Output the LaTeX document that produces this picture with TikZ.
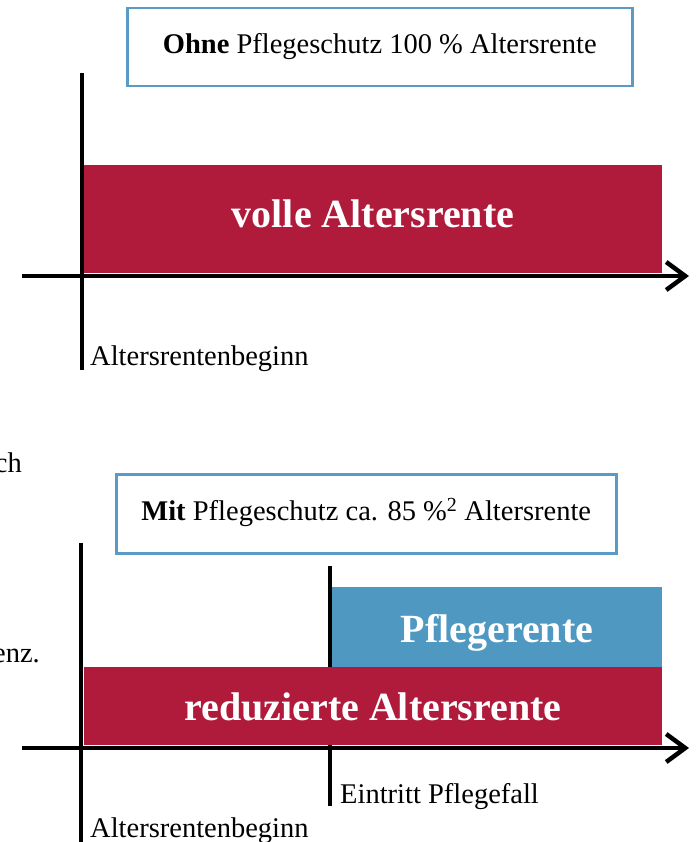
\documentclass[tikz,border=0pt]{standalone}
\usepackage{fontspec}
\setmainfont{Liberation Serif}
\usetikzlibrary{arrows.meta,positioning}
\definecolor{rentred}{HTML}{B01A3B}
\definecolor{pflegeblue}{HTML}{4F98C2}
\definecolor{boxblue}{HTML}{5A9AC6}

\begin{document}
\begin{tikzpicture}[
  x=1pt, y=-1pt,
  font=\fontsize{28.5}{34}\selectfont,
  >={Straight Barb[length=19pt,width=28pt]},
  axis/.style={line width=4.5pt},
  timeline/.style={axis, ->},
  bar/.style={anchor=north west, inner sep=0pt, outer sep=0pt},
  bartext/.style={anchor=base, inner sep=0pt, text=white,
                  font=\fontsize{40}{44}\selectfont\bfseries},
  caption/.style={draw=boxblue, line width=2.5pt, fill=white, anchor=north west,
                  inner sep=0pt, text height=19.5pt, text depth=6.2pt},
  tick/.style={anchor=base west, inner sep=0pt},
]
\useasboundingbox (0,0) rectangle (695,842);

% ============ Ohne Pflegeschutz (top) ============
\node[caption, minimum width=505pt, minimum height=78pt] (ohnebox) at (126,7)
  {\textbf{Ohne} Pflegeschutz 100 \% Altersrente};
\node[bar, fill=rentred, minimum width=578pt, minimum height=108pt] (vollebar) at (84,165) {};
\node[bartext] (volletxt) at (373,228) {volle Altersrente};
\coordinate (topv0) at (82,73);
\coordinate (topv1) at (82,370);
\coordinate (toph0) at (22,276);
\coordinate (toph1) at (689,276);
\draw[axis] (topv0) -- (topv1);
\draw[timeline] (toph0) -- (toph1);
\node[tick] (beginn1) at (90,365) {Altersrentenbeginn};

% text cut off at the left edge
\node[anchor=base east, inner sep=0pt] (frag1) at (22,472) {ch};
\node[anchor=base east, inner sep=0pt] (frag2) at (40,662) {enz.};

% ============ Mit Pflegeschutz (bottom) ============
\node[caption, minimum width=500pt, minimum height=79pt] (mitbox) at (115,473)
  {\textbf{Mit} Pflegeschutz ca. 85 \%\textsuperscript{2} Altersrente};
\coordinate (pflv0) at (330,566);
\coordinate (pflv1) at (330,806);
\draw[axis] (pflv0) -- (pflv1);
\node[bar, fill=pflegeblue, minimum width=330pt, minimum height=80pt] (pflbar) at (332,587) {};
\node[bar, fill=rentred, minimum width=578pt, minimum height=78pt] (redbar) at (84,667) {};
\node[bartext] (pfltxt) at (497,642) {Pflegerente};
\node[bartext] (redtxt) at (373,720) {reduzierte Altersrente};
\coordinate (botv0) at (81,543);
\coordinate (botv1) at (81,850);
\coordinate (both0) at (22,748);
\coordinate (both1) at (689,748);
\draw[axis] (botv0) -- (botv1);
\draw[timeline] (both0) -- (both1);
\node[tick] (eintritt) at (340,803) {Eintritt Pflegefall};
\node[tick] (beginn2) at (90,837) {Altersrentenbeginn};

\end{tikzpicture}
\end{document}
